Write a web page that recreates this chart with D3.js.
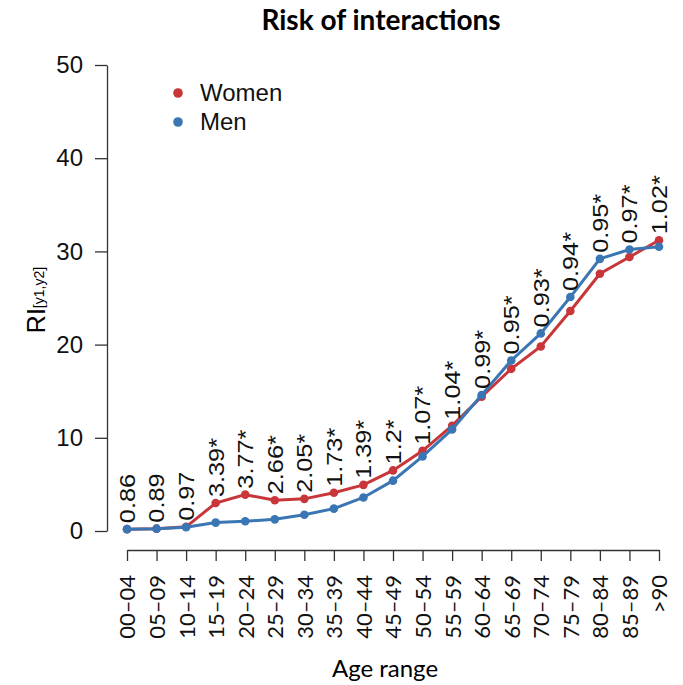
<!DOCTYPE html>
<html>
<head>
<meta charset="utf-8">
<script src="https://cdn.jsdelivr.net/npm/d3@7"></script>
<style>
  body { margin: 0; background: #fff; }
  svg { display: block; }
</style>
</head>
<body>
<svg id="chart" width="683" height="685"></svg>
<script>
// age groups on the x axis
const ages = ["00\u201304", "05\u201309", "10\u201314", "15\u201319", "20\u201324", "25\u201329",
  "30\u201334", "35\u201339", "40\u201344", "45\u201349", "50\u201354", "55\u201359", "60\u201364",
  "65\u201369", "70\u201374", "75\u201379", "80\u201384", "85\u201389", ">90"];

// values
const women = [0.2, 0.25, 0.45, 3.0, 3.9, 3.3, 3.45, 4.1, 4.95, 6.5, 8.6, 11.3, 14.4,
  17.4, 19.8, 23.6, 27.6, 29.4, 31.2];
const men = [0.2, 0.25, 0.4, 0.9, 1.05, 1.25, 1.75, 2.4, 3.6, 5.4, 8.0, 10.9, 14.6,
  18.3, 21.2, 25.1, 29.2, 30.2, 30.5];
const ratioLabels = ["0.86", "0.89", "0.97", "3.39*", "3.77*", "2.66*", "2.05*", "1.73*",
  "1.39*", "1.2*", "1.07*", "1.04*", "0.99*", "0.95*", "0.93*", "0.94*", "0.95*", "0.97*", "1.02*"];
const yTicks = [0, 10, 20, 30, 40, 50];

const red = "#c8363a", blue = "#3b76b4";
const arial = "'Liberation Sans', Arial, sans-serif";
const calibri = "Lato, 'Open Sans', sans-serif";

const svg = d3.select("#chart");

const x = d3.scalePoint().domain(ages).range([127, 659]);
const y = d3.scaleLinear().domain([0, 50]).range([531, 65]);

// title
svg.append("text")
  .attr("x", 381).attr("y", 30)
  .attr("text-anchor", "middle")
  .style("font-family", calibri).style("font-weight", "bold").style("font-size", "28px")
  .text("Risk of interactions");

// y axis
const yAxis = svg.append("g")
  .attr("transform", "translate(107,0)")
  .call(d3.axisLeft(y).tickValues(yTicks).tickSize(12).tickSizeOuter(0).tickPadding(12));
yAxis.select(".domain").attr("stroke", "#333").attr("stroke-width", 1.3);
yAxis.selectAll(".tick line").attr("stroke", "#333").attr("stroke-width", 1.3);
yAxis.selectAll(".tick text")
  .style("font-family", arial).style("font-size", "24px").attr("fill", "#111");

// x axis
const xAxis = svg.append("g")
  .attr("transform", "translate(0,550)")
  .call(d3.axisBottom(x).tickSize(11).tickSizeOuter(0).tickPadding(0));
xAxis.select(".domain").attr("stroke", "#333").attr("stroke-width", 1.3);
xAxis.selectAll(".tick line").attr("stroke", "#333").attr("stroke-width", 1.3);
xAxis.selectAll(".tick text")
  .attr("transform", "translate(0,25) rotate(-90)")
  .attr("x", 0).attr("y", 0).attr("dy", "0.36em")
  .attr("text-anchor", "end")
  .style("font-family", calibri).style("font-size", "22px").attr("fill", "#111");

// axis titles
svg.append("text")
  .attr("x", 385).attr("y", 677)
  .attr("text-anchor", "middle")
  .style("font-family", calibri).style("font-size", "24px")
  .text("Age range");

const yl = svg.append("text")
  .attr("transform", "translate(45,300) rotate(-90)")
  .attr("text-anchor", "middle")
  .style("font-family", arial).style("font-size", "25px");
yl.append("tspan").text("RI");
yl.append("tspan").attr("dy", -1).style("font-size", "14px").text("[y1,y2]");

// lines and points
const line = d3.line().x((d, i) => x(ages[i])).y(d => y(d));

[[women, red], [men, blue]].forEach(([vals, col]) => {
  svg.append("path")
    .datum(vals)
    .attr("d", line)
    .attr("fill", "none")
    .attr("stroke", col)
    .attr("stroke-width", 3);
  svg.append("g").selectAll("circle")
    .data(vals)
    .join("circle")
    .attr("cx", (d, i) => x(ages[i]))
    .attr("cy", d => y(d))
    .attr("r", 4.3)
    .attr("fill", col);
});

// ratio labels above each pair of points
svg.append("g").selectAll("text")
  .data(ratioLabels)
  .join("text")
  .attr("transform", (d, i) => `translate(${x(ages[i])},${y(Math.max(women[i], men[i])) - 6}) rotate(-90) scale(1.15,1)`)
  .attr("dy", "0.36em")
  .attr("text-anchor", "start")
  .style("font-family", arial).style("font-size", "22px").attr("fill", "#111")
  .text(d => d);

// legend
const legend = [["Women", red], ["Men", blue]];
const lg = svg.append("g").selectAll("g")
  .data(legend)
  .join("g")
  .attr("transform", (d, i) => `translate(178,${93 + i * 29})`);
lg.append("circle").attr("r", 4.8).attr("fill", d => d[1]);
lg.append("text")
  .attr("x", 22).attr("dy", "0.35em")
  .style("font-family", arial).style("font-size", "24px").attr("fill", "#111")
  .text(d => d[0]);
</script>
</body>
</html>
